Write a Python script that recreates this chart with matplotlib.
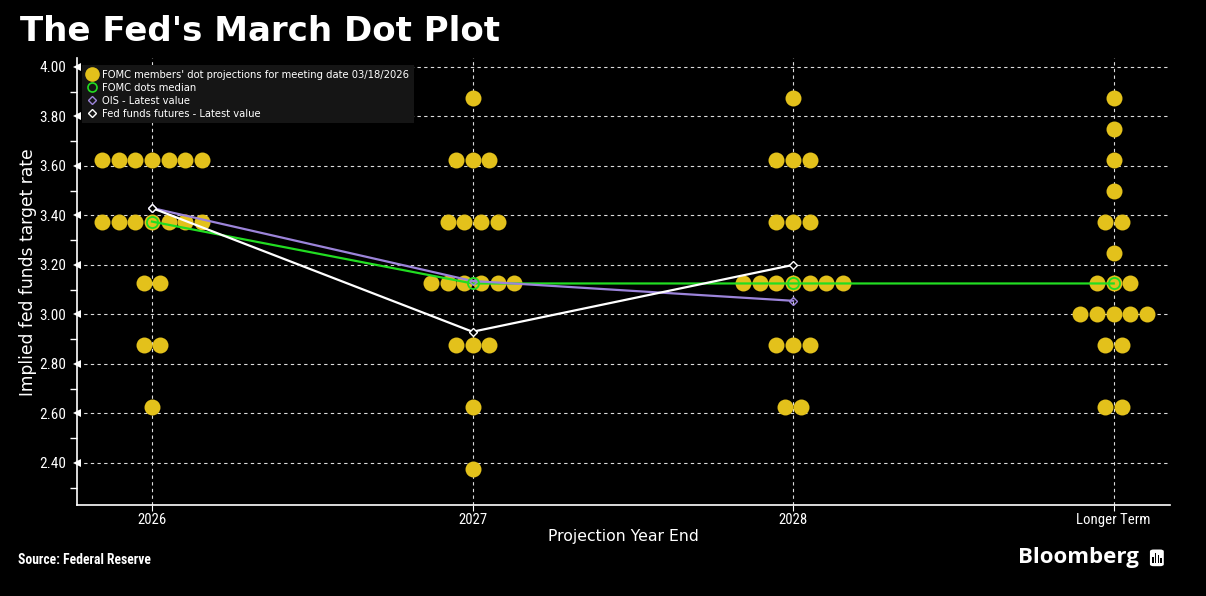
import matplotlib
matplotlib.use("Agg")
import matplotlib.pyplot as plt
from matplotlib.patches import FancyBboxPatch, Rectangle
from matplotlib.lines import Line2D
from matplotlib import font_manager
import numpy as np

# categorias do eixo x
categorias = ["2026", "2027", "2028", "Longer Term"]

# projeções dos membros: (taxa, quantidade de pontos) por categoria
pontos_2026 = [(3.625, 7), (3.375, 7), (3.125, 2), (2.875, 2), (2.625, 1)]
pontos_2027 = [(3.875, 1), (3.625, 3), (3.375, 4), (3.125, 6), (2.875, 3),
               (2.625, 1), (2.375, 1)]
pontos_2028 = [(3.875, 1), (3.625, 3), (3.375, 3), (3.125, 7), (2.875, 3),
               (2.625, 2)]
pontos_longo = [(3.875, 1), (3.75, 1), (3.625, 1), (3.5, 1), (3.375, 2),
                (3.25, 1), (3.125, 3), (3.0, 5), (2.875, 2), (2.625, 2)]
projecoes = [pontos_2026, pontos_2027, pontos_2028, pontos_longo]

mediana = [3.375, 3.125, 3.125, 3.125]
ois = [3.43, 3.135, 3.055]
futuros = [3.43, 2.93, 3.20]

yticks = [2.40, 2.60, 2.80, 3.00, 3.20, 3.40, 3.60, 3.80, 4.00]

ouro = "#E3C11B"
verde = "#22DD22"
roxo = "#9C84DA"
fundo = "#000000"
passo = 0.052  # espaçamento horizontal entre pontos

# fonte estreita, se existir
nomes = {f.name for f in font_manager.fontManager.ttflist}
estreita = "DejaVu Sans"
for cand in ["Liberation Sans Narrow", "Roboto Condensed", "Open Sans Condensed",
             "Noto Sans Condensed", "DejaVu Sans Condensed"]:
    if cand in nomes:
        estreita = cand
        break
fp_xtick = font_manager.FontProperties(family=estreita, size=10.6, stretch="condensed")
fp_ytick = font_manager.FontProperties(family=estreita, size=11, stretch="condensed")
fp_leg = font_manager.FontProperties(family="DejaVu Sans", size=7.2)

fig = plt.figure(figsize=(12.06, 5.96), dpi=100, facecolor=fundo)
ax = fig.add_axes([0.0638, 0.1527, 0.9062, 0.75])
ax.set_facecolor(fundo)

# pontos dos membros
for i, grupo in enumerate(projecoes):
    for taxa, n in grupo:
        offs = (np.arange(n) - (n - 1) / 2.0) * passo
        ax.plot(i + offs, [taxa] * n, "o", color=ouro, markersize=11.5,
                markeredgewidth=0, zorder=3)

x = np.arange(len(categorias))
ax.plot(x, mediana, color=verde, lw=1.6, zorder=4)
ax.plot(x, mediana, "o", mfc="none", mec=verde, mew=1.3, ms=8, zorder=6)
ax.plot(x[:3], ois, color=roxo, lw=1.6, zorder=4,
        marker="D", mfc="none", mec=roxo, ms=4, mew=1)
ax.plot(x[:3], futuros, color="white", lw=1.6, zorder=5,
        marker="D", mfc=fundo, mec="white", ms=4, mew=1)

ax.set_xlim(-0.234, 3.175)
ax.set_ylim(2.23, 4.036)
ax.set_xticks(x)
ax.set_xticklabels(categorias, fontproperties=fp_xtick)
ax.set_yticks(yticks)
ax.set_yticklabels(["%.2f" % v for v in yticks], fontproperties=fp_ytick)
ax.set_yticks(np.arange(2.3, 4.0, 0.2), minor=True)

ax.grid(True, color="#dddddd", ls=(0, (3, 3)), lw=0.8)
for s in ["top", "right"]:
    ax.spines[s].set_visible(False)
for s in ["left", "bottom"]:
    ax.spines[s].set_color("white")
    ax.spines[s].set_linewidth(1.2)

ax.tick_params(axis="y", which="major", colors="white", length=0, pad=8)
for t in ax.yaxis.get_major_ticks():
    t.tick1line.set_marker("<")
    t.tick1line.set_markersize(6)
    t.tick1line.set_markeredgewidth(0)
    t.tick1line.set_markerfacecolor("white")
ax.tick_params(axis="y", which="minor", colors="white", length=5, width=1)
ax.tick_params(axis="x", colors="white", length=4, pad=2)

ax.set_ylabel("Implied fed funds target rate", color="white", fontsize=12.3,
              family="DejaVu Sans")
ax.set_xlabel("Projection Year End", color="white", fontsize=11.3,
              family="DejaVu Sans", labelpad=1)
ax.yaxis.set_label_coords(-0.037, 0.52)

# legenda
handles = [
    Line2D([], [], ls="none", marker="o", color=ouro, ms=10.5, mew=0),
    Line2D([], [], ls="none", marker="o", mfc="none", mec=verde, ms=6.5, mew=1.2),
    Line2D([], [], ls="none", marker="D", mfc="none", mec=roxo, ms=4.5, mew=1),
    Line2D([], [], ls="none", marker="D", mfc="none", mec="white", ms=4.5, mew=1),
]
rotulos = ["FOMC members' dot projections for meeting date 03/18/2026",
           "FOMC dots median", "OIS - Latest value",
           "Fed funds futures - Latest value"]
leg = ax.legend(handles, rotulos, loc="upper left", bbox_to_anchor=(0.0, 0.995),
                frameon=True, facecolor="#151515", edgecolor="none",
                framealpha=1, labelspacing=0.3, handletextpad=0.4,
                handlelength=1.2, borderpad=0.45, fancybox=False,
                prop=fp_leg)
for txt in leg.get_texts():
    txt.set_color("white")
leg.set_zorder(2)

# textos da figura
fig.text(0.0166, 0.947, "The Fed's March Dot Plot", color="white",
         fontsize=24.5, fontweight="bold", family="DejaVu Sans", va="center")
fp_src = font_manager.FontProperties(family=estreita, size=9.8, weight="bold",
                                     stretch="condensed")
fig.text(0.0148, 0.06, "Source: Federal Reserve", color="white",
         fontproperties=fp_src, va="center")
fig.text(0.944, 0.064, "Bloomberg", color="white", fontsize=16,
         fontweight="bold", family="Open Sans", va="center", ha="right")

# ícone do logo
icone = FancyBboxPatch((0.9535, 0.05), 0.0115, 0.028, transform=fig.transFigure,
                       boxstyle="round,pad=0.0,rounding_size=0.003",
                       fc="white", ec="none")
fig.patches.append(icone)
for k, h in enumerate([0.010, 0.016, 0.012, 0.008]):
    fig.patches.append(Rectangle((0.9555 + k * 0.0022, 0.056), 0.0012, h,
                                 transform=fig.transFigure, fc=fundo, ec="none"))

fig.savefig("out.png", dpi=100, facecolor=fundo)
